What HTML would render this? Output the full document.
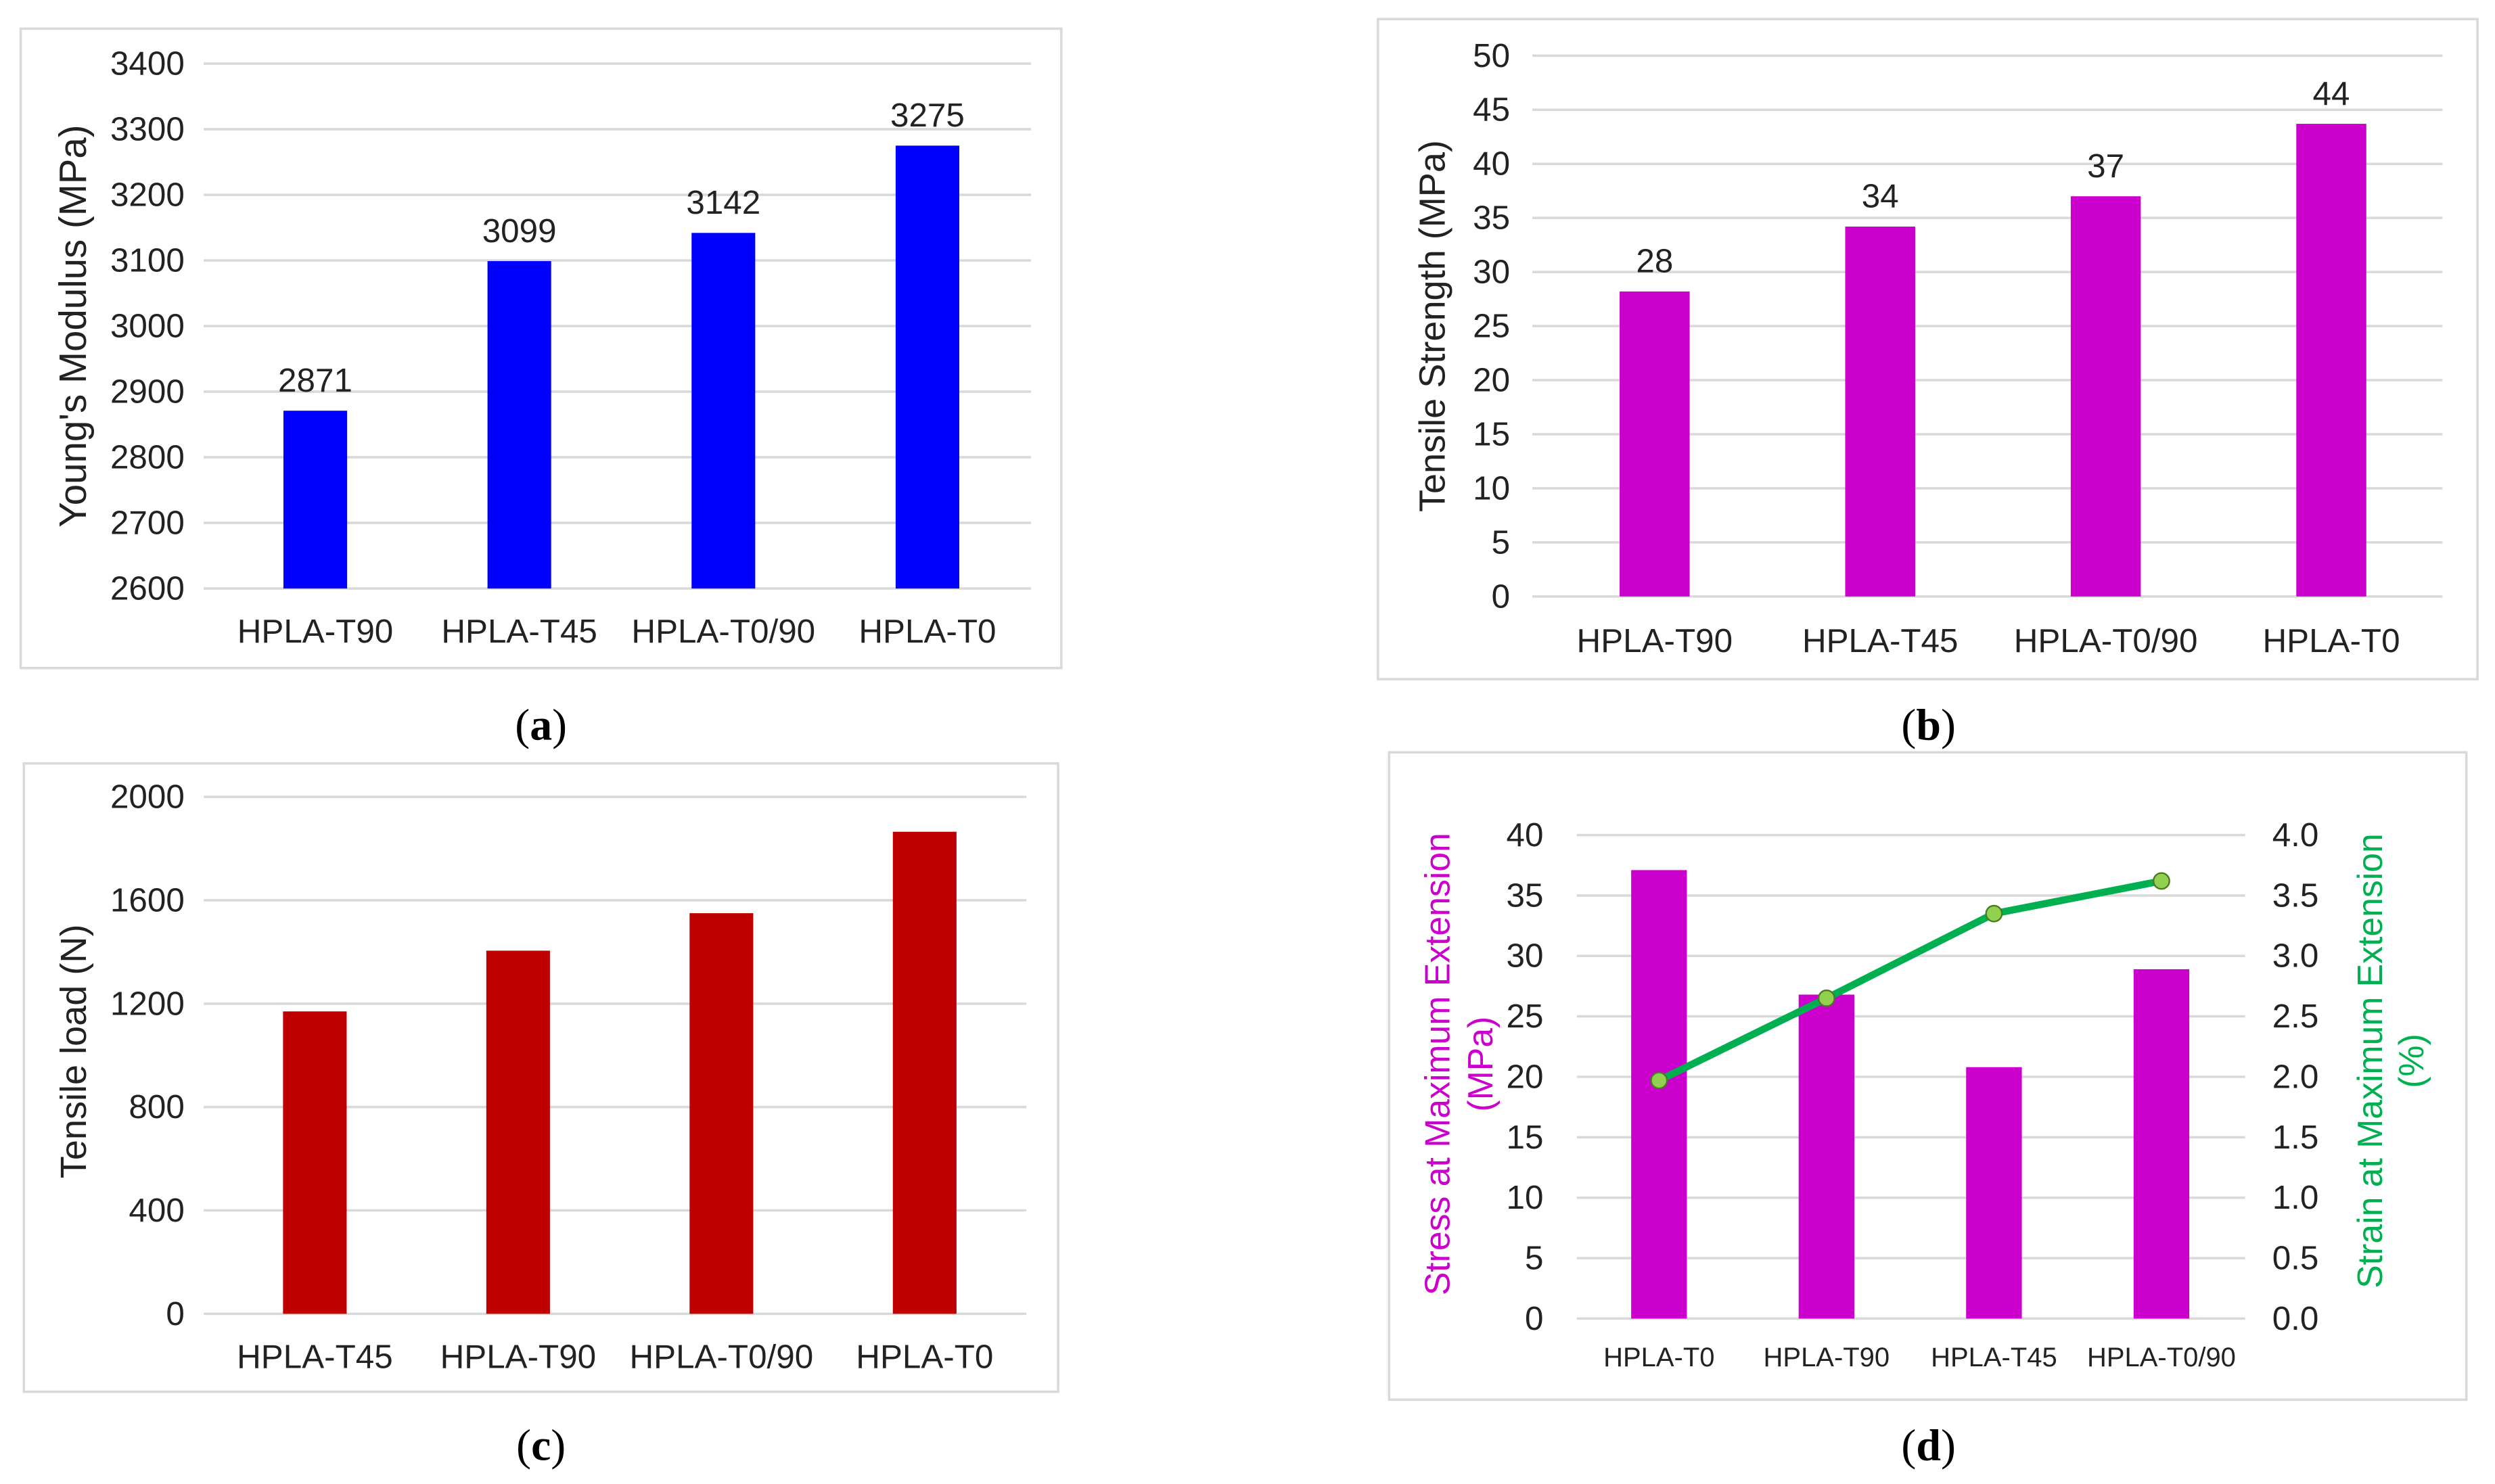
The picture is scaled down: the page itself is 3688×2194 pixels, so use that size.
<!DOCTYPE html>
<html><head><meta charset="utf-8"><style>
html,body{margin:0;padding:0;background:#fff;}
svg{display:block;}
text{font-family:"Liberation Sans Narrow","Liberation Sans",sans-serif;fill:#222;}
.cap{font-family:"Liberation Serif",serif;font-size:28px;fill:#000;}
.ttl{font-family:"Liberation Sans",sans-serif;}
</style></head><body>
<svg id="fig" width="3688" height="2194" viewBox="0 0 1568 933" preserveAspectRatio="none" xmlns="http://www.w3.org/2000/svg"></svg>
<script>
const aCats=["HPLA-T90","HPLA-T45","HPLA-T0/90","HPLA-T0"];
const aVals=[2871,3099,3142,3275];
const aTicks=[2600,2700,2800,2900,3000,3100,3200,3300,3400];
const bCats=["HPLA-T90","HPLA-T45","HPLA-T0/90","HPLA-T0"];
const bVals=[28.2,34.2,37,43.7];
const bLabels=["28","34","37","44"];
const bTicks=[0,5,10,15,20,25,30,35,40,45,50];
const cCats=["HPLA-T45","HPLA-T90","HPLA-T0/90","HPLA-T0"];
const cVals=[1170,1405,1550,1865];
const cTicks=[0,400,800,1200,1600,2000];
const dCats=["HPLA-T0","HPLA-T90","HPLA-T45","HPLA-T0/90"];
const dStress=[37.1,26.8,20.8,28.9];
const dStrain=[1.97,2.65,3.35,3.62];
const dLeftTicks=[0,5,10,15,20,25,30,35,40];
const dRightTicks=["0.0","0.5","1.0","1.5","2.0","2.5","3.0","3.5","4.0"];

const NS="http://www.w3.org/2000/svg";
const svg=document.getElementById('fig');
function mk(tag,attrs,parent,txt){const e=document.createElementNS(NS,tag);for(const k in attrs)e.setAttribute(k,attrs[k]);if(txt!==undefined)e.textContent=txt;(parent||svg).appendChild(e);return e;}

function panel(o){
  const g=mk('g',{});
  
  
  const fr=mk('rect',{x:o.fx,y:o.fy,width:o.fw,height:o.fh,fill:'#fff',stroke:'#d9d9d9','stroke-width':1.5},g);
  
  
  const y=v=>o.y0-(v-o.min)/(o.max-o.min)*(o.y0-o.y1);
  const bx0=o.bx0!==undefined?o.bx0:o.x0, bx1=o.bx1!==undefined?o.bx1:o.x1;
  const step=(bx1-bx0)/o.cats.length;
  const xc=i=>bx0+step*(i+0.5);
  o.ticks.forEach((t,i)=>{
    const gl=mk('line',{x1:o.x0,x2:o.x1,y1:y(t),y2:y(t),stroke:'#d9d9d9','stroke-width':1.5},g);
    
    
    const tl=mk('text',{x:o.tx,y:y(t)+7,'text-anchor':'end','font-size':o.fs},g,o.tickLabels?o.tickLabels[i]:t);
    
    
  });
  o.cats.forEach((c,i)=>{
    const v=o.vals[i];
    const r=mk('rect',{x:xc(i)-o.bw/2,y:y(v),width:o.bw,height:y(o.min)-y(v),fill:o.color},g);
    
    
    const xl=mk('text',{x:xc(i),y:o.xly,'text-anchor':'middle','font-size':o.xfs},g,c);
    
    
    if(o.labels){
      const vl=mk('text',{x:xc(i),y:y(v)-12,'text-anchor':'middle','font-size':o.fs},g,o.labels[i]);
      
      
    }
  });
  o.titles.forEach(t=>{
    const tt=mk('text',{x:0,y:0,'text-anchor':'middle','font-size':t.fs||23,class:'ttl',transform:`translate(${t.x},${t.y}) rotate(-90)`,style:'fill:'+(t.color||'#222')},g,t.text);
    
    
  });
  const cp=mk('text',{x:o.capx,y:o.capy,'text-anchor':'middle',class:'cap'},g);
  
  
  mk('tspan',{},cp,'(');mk('tspan',{'font-weight':'bold'},cp,o.cap);mk('tspan',{},cp,')');
  return {g,y,xc};
}

panel({name:'panel-a-youngs-modulus',fx:13,fy:18,fw:654,fh:402,x0:128,x1:648,bx0:134,bx1:647,y0:370,y1:40,min:2600,max:3400,
 cats:aCats,vals:aVals,labels:aVals.map(String),ticks:aTicks,color:'#0000ff',bw:40,tx:116,fs:21,xfs:21,xly:404,
 titles:[{x:54,y:205,text:"Young's Modulus (MPa)",name:'y-axis-title',fs:24}],cap:'a',capx:340,capy:465});

panel({name:'panel-b-tensile-strength',fx:866,fy:12,fw:691,fh:415,x0:963,x1:1535,bx0:969,bx1:1536,y0:375,y1:35,min:0,max:50,
 cats:bCats,vals:bVals,labels:bLabels,ticks:bTicks,color:'#cc00cc',bw:44,tx:949,fs:21,xfs:21,xly:410,
 titles:[{x:908,y:205,text:"Tensile Strength (MPa)",name:'y-axis-title',fs:23}],cap:'b',capx:1212,capy:465});

panel({name:'panel-c-tensile-load',fx:15,fy:480,fw:650,fh:395,x0:128,x1:645,bx0:134,bx1:645,y0:826,y1:501,min:0,max:2000,
 cats:cCats,vals:cVals,ticks:cTicks,color:'#c00000',bw:40,tx:116,fs:21,xfs:21,xly:860,
 titles:[{x:54,y:661,text:"Tensile load (N)",name:'y-axis-title',fs:23}],cap:'c',capx:340,capy:918});

const d=panel({name:'panel-d-stress-strain',fx:873,fy:473,fw:677,fh:407,x0:991,x1:1411,bx0:990,bx1:1411,y0:829,y1:525,min:0,max:40,
 cats:dCats,vals:dStress,ticks:dLeftTicks,color:'#cc00cc',bw:35,tx:970,fs:21,xfs:17,xly:859,
 titles:[{x:911,y:669,text:"Stress at Maximum Extension",name:'left-axis-title',color:'#cc00cc',fs:22},
         {x:938,y:669,text:"(MPa)",name:'left-axis-title-unit',color:'#cc00cc',fs:22},
         {x:1497,y:667,text:"Strain at Maximum Extension",name:'right-axis-title',color:'#00b050',fs:22},
         {x:1523,y:667,text:"(%)",name:'right-axis-title-unit',color:'#00b050',fs:22}],cap:'d',capx:1212,capy:918});
const yR=v=>829-v/4*(829-525);
dRightTicks.forEach(t=>{
  const tl=mk('text',{x:1428,y:yR(parseFloat(t))+7,'font-size':21},d.g,t);
  
  
});
const pts=dStrain.map((v,i)=>d.xc(i)+','+yR(v)).join(' ');
const ln=mk('polyline',{points:pts,fill:'none',stroke:'#00b050','stroke-width':4.5,'stroke-linejoin':'round'},d.g);


dStrain.forEach((v,i)=>{
  const c=mk('circle',{cx:d.xc(i),cy:yR(v),r:5,fill:'#92d050',stroke:'#4a7a20','stroke-width':1},d.g);
  
  
});
</script>
</body></html>
